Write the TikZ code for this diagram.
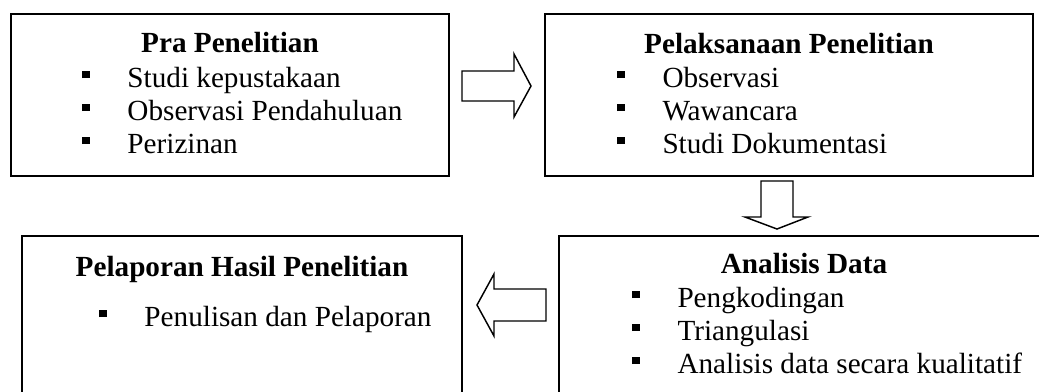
\documentclass[tikz,border=0pt]{standalone}
\usepackage{fontspec}
\setmainfont{Liberation Serif}
\begin{document}
\begin{tikzpicture}[x=0.411pt,y=-0.411pt,
  box/.style={draw, line width=0.85pt, inner sep=0pt, fill=none},
  blockarrow/.style={draw, line width=0.6pt, line join=miter},
  title/.style={anchor=base, inner sep=0pt, font=\fontsize{12pt}{14pt}\selectfont\bfseries},
  item/.style={anchor=base west, inner sep=0pt, font=\fontsize{12pt}{14pt}\selectfont},
]
\newcommand{\sqbullet}{\makebox[18.5pt][l]{\rule[3.6pt]{3.1pt}{3.1pt}}}
\useasboundingbox (0,0) rectangle (1039,391);
\clip (0,0) rectangle (1039,391);

% boxes
\node[box, minimum width=438*0.411pt, minimum height=162*0.411pt] (b1) at (230,95) {};
\node[box, minimum width=488*0.411pt, minimum height=162*0.411pt] (b2) at (789,95) {};
\node[box, minimum width=440*0.411pt, minimum height=184*0.411pt] (b3) at (242,328) {};
\node[box, minimum width=501*0.411pt, minimum height=184*0.411pt] (b4) at (809.5,328) {};

% box 1
\node[title] (t1) at (230,52) {Pra Penelitian};
\node[item] (i11) at (82,87) {\sqbullet Studi kepustakaan};
\node[item] (i12) at (82,120) {\sqbullet Observasi Pendahuluan};
\node[item] (i13) at (82,153) {\sqbullet Perizinan};

% box 2
\node[title] (t2) at (789,53) {Pelaksanaan Penelitian};
\node[item] (i21) at (617,87) {\sqbullet Observasi};
\node[item] (i22) at (617,120) {\sqbullet Wawancara};
\node[item] (i23) at (617,153) {\sqbullet Studi Dokumentasi};

% box 3
\node[title] (t3) at (242,276) {Pelaporan Hasil Penelitian};
\node[item] (i31) at (99,326) {\sqbullet Penulisan dan Pelaporan};

% box 4
\node[title] (t4) at (804,273) {Analisis Data};
\node[item] (i41) at (632,307) {\sqbullet Pengkodingan};
\node[item] (i42) at (632,340) {\sqbullet Triangulasi};
\node[item] (i43) at (632,373) {\sqbullet Analisis data secara kualitatif};

% block arrows
\draw[blockarrow] (462,71) -- (514,71) -- (514,54) -- (531,86) -- (514,117) -- (514,101) -- (462,101) -- cycle;
\draw[blockarrow] (761,181) -- (793,181) -- (793,217) -- (808,217) -- (777,229) -- (745,217) -- (761,217) -- cycle;
\draw[blockarrow] (546,289) -- (546,321) -- (494,321) -- (494,336) -- (477,305) -- (494,274) -- (494,289) -- cycle;
\end{tikzpicture}
\end{document}
